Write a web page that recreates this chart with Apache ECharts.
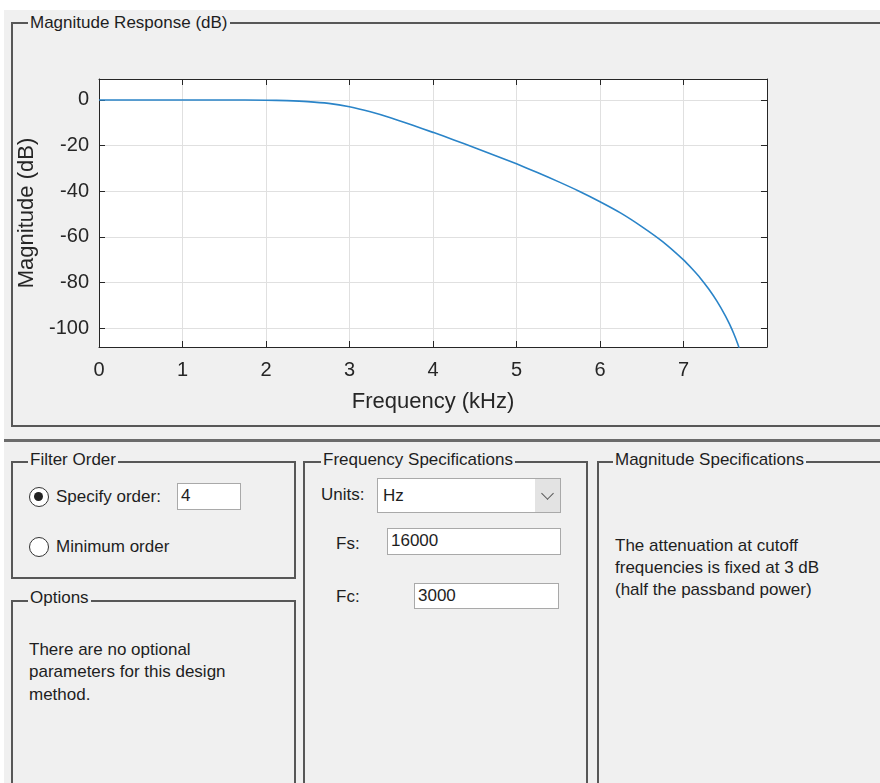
<!DOCTYPE html>
<html>
<head>
<meta charset="utf-8">
<script src="https://cdn.jsdelivr.net/npm/echarts@6/dist/echarts.min.js"></script>
<style>
  html, body { margin:0; padding:0; background:#fff; }
  body { width:880px; height:783px; position:relative; overflow:hidden;
         font-family:"Liberation Sans", Arial, sans-serif; font-size:17px; color:#1e1e1e; }
  .bg { position:absolute; left:4px; top:10px; width:876px; height:773px; background:#f0f0f0; }
  .box { position:absolute; border:2px solid #575757; box-sizing:border-box; }
  .ttl { position:absolute; background:#f0f0f0; padding:0 2px; line-height:20px; height:20px; white-space:nowrap; }
  .txt { position:absolute; line-height:20px; white-space:nowrap; }
  .inp { position:absolute; background:#fff; border:1px solid #a9a9a9; box-sizing:border-box; line-height:24px; padding-left:3px; white-space:nowrap; }
  .radio { position:absolute; width:20px; height:20px; border:1.5px solid #333; border-radius:50%; background:#fff; box-sizing:border-box; }
  .dot { position:absolute; left:4px; top:4px; width:9px; height:9px; border-radius:50%; background:#222; }
  .hline { position:absolute; left:4px; width:876px; }
  #chart { position:absolute; left:0; top:0; width:880px; height:425px; }
</style>
</head>
<body>
<div class="bg"></div>

<!-- top panel -->
<div class="box" style="left:11px; top:22px; width:880px; height:405px;"></div>
<div class="ttl" style="left:28px; top:13px;">Magnitude Response (dB)</div>

<div class="hline" style="top:439px; height:3px; background:#6b6b6b;"></div>

<!-- Filter Order -->
<div class="box" style="left:11px; top:461px; width:285px; height:118px;"></div>
<div class="ttl" style="left:28px; top:450px;">Filter Order</div>
<div class="radio" style="left:29px; top:487px;"><div class="dot"></div></div>
<div class="txt" style="left:56px; top:487px;">Specify order:</div>
<div class="inp" style="left:177px; top:483px; width:64px; height:27px;">4</div>
<div class="radio" style="left:29px; top:537px;"></div>
<div class="txt" style="left:56px; top:537px;">Minimum order</div>

<!-- Options -->
<div class="box" style="left:11px; top:600px; width:285px; height:220px;"></div>
<div class="ttl" style="left:28px; top:588px;">Options</div>
<div class="txt" style="left:29px; top:640px;">There are no optional</div>
<div class="txt" style="left:29px; top:662px;">parameters for this design</div>
<div class="txt" style="left:29px; top:685px;">method.</div>

<!-- Frequency Specifications -->
<div class="box" style="left:303px; top:461px; width:285px; height:360px;"></div>
<div class="ttl" style="left:321px; top:450px;">Frequency Specifications</div>
<div class="txt" style="left:321px; top:485px;">Units:</div>
<div class="inp" style="left:377px; top:478px; width:184px; height:35px; line-height:33px; padding-left:5px;">Hz
  <div style="position:absolute; right:0; top:0; width:25px; height:33px; background:#e3e3e3;">
    <div style="position:absolute; left:8px; top:10px; width:8px; height:8px; border-right:1.5px solid #555; border-bottom:1.5px solid #555; transform:rotate(45deg);"></div>
  </div>
</div>
<div class="txt" style="left:336px; top:534px;">Fs:</div>
<div class="inp" style="left:387px; top:528px; width:174px; height:27px;">16000</div>
<div class="txt" style="left:336px; top:587px;">Fc:</div>
<div class="inp" style="left:414px; top:583px; width:145px; height:26px;">3000</div>

<!-- Magnitude Specifications -->
<div class="box" style="left:597px; top:461px; width:300px; height:360px;"></div>
<div class="ttl" style="left:613px; top:450px;">Magnitude Specifications</div>
<div class="txt" style="left:615px; top:536px;">The attenuation at cutoff</div>
<div class="txt" style="left:615px; top:558px;">frequencies is fixed at 3 dB</div>
<div class="txt" style="left:615px; top:580px;">(half the passband power)</div>

<div id="chart"></div>

<script>
// Data read from the plotted magnitude response
const freqKHz = [0, 0.5, 1, 1.5, 2, 2.25, 2.5, 2.75, 3, 3.25, 3.5, 3.75, 4, 4.25, 4.5, 4.75,
                 5, 5.25, 5.5, 5.75, 6, 6.25, 6.5, 6.75, 7, 7.1, 7.2, 7.3, 7.4, 7.5, 7.55, 7.6, 7.65, 7.7];
const magDB   = [0, 0, 0, 0, -0.1, -0.3, -0.7, -1.5, -3.0, -5.2, -7.9, -11.0, -14.2, -17.5, -20.9, -24.4,
                 -28.0, -31.8, -35.8, -40.0, -44.6, -49.6, -55.5, -62.1, -70.1, -73.9, -78.0, -82.8, -88.2, -94.5, -98.2, -102.3, -107.0, -112.4];
const yTickValues = [0, -20, -40, -60, -80, -100];
const xAxisLabel = 'Frequency (kHz)';
const yAxisLabel = 'Magnitude (dB)';

const seriesData = freqKHz.map((f, i) => [f, magDB[i]]);
const axisColor = '#262626';
const gridColor = '#e0e0e0';

const chart = echarts.init(document.getElementById('chart'), null, { renderer: 'canvas' });
chart.setOption({
  animation: false,
  backgroundColor: 'transparent',
  grid: { left: 99, top: 79, width: 668, height: 268, show: true, backgroundColor: '#ffffff',
          borderWidth: 0, containLabel: false },
  xAxis: [
    { type: 'value', min: 0, max: 8, interval: 1, position: 'bottom',
      name: xAxisLabel, nameLocation: 'middle', nameGap: 44,
      nameTextStyle: { color: axisColor, fontSize: 22, fontFamily: 'Liberation Sans' },
      axisLine: { show: true, onZero: false, lineStyle: { color: axisColor, width: 1 } },
      axisTick: { show: true, inside: true, length: 6, lineStyle: { color: axisColor } },
      axisLabel: { color: axisColor, fontSize: 20, fontFamily: 'Liberation Sans', margin: 13, showMaxLabel: false },
      splitLine: { show: true, lineStyle: { color: gridColor, width: 1 } } },
    { type: 'value', min: 0, max: 8, interval: 1, position: 'top',
      axisLine: { show: true, onZero: false, lineStyle: { color: axisColor, width: 1 } },
      axisTick: { show: true, inside: true, length: 6, lineStyle: { color: axisColor } },
      axisLabel: { show: false }, splitLine: { show: false } }
  ],
  yAxis: [
    { type: 'value', min: -108.3, max: 9.2, position: 'left',
      name: yAxisLabel, nameLocation: 'middle', nameGap: 60, nameRotate: 90,
      nameTextStyle: { color: axisColor, fontSize: 22, fontFamily: 'Liberation Sans' },
      axisLine: { show: true, onZero: false, lineStyle: { color: axisColor, width: 1 } },
      axisTick: { show: true, inside: true, length: 6, customValues: yTickValues, lineStyle: { color: axisColor } },
      axisLabel: { color: axisColor, fontSize: 20, fontFamily: 'Liberation Sans', margin: 10, customValues: yTickValues },
      splitLine: { show: true, lineStyle: { color: gridColor, width: 1 } } },
    { type: 'value', min: -108.3, max: 9.2, position: 'right',
      axisLine: { show: true, onZero: false, lineStyle: { color: axisColor, width: 1 } },
      axisTick: { show: true, inside: true, length: 6, customValues: yTickValues, lineStyle: { color: axisColor } },
      axisLabel: { show: false }, splitLine: { show: false } }
  ],
  series: [{
    type: 'line', xAxisIndex: 0, yAxisIndex: 0, data: seriesData,
    showSymbol: false, smooth: 0.2, clip: true,
    lineStyle: { color: '#2a84c8', width: 1.6 }
  }]
});
</script>
</body>
</html>
